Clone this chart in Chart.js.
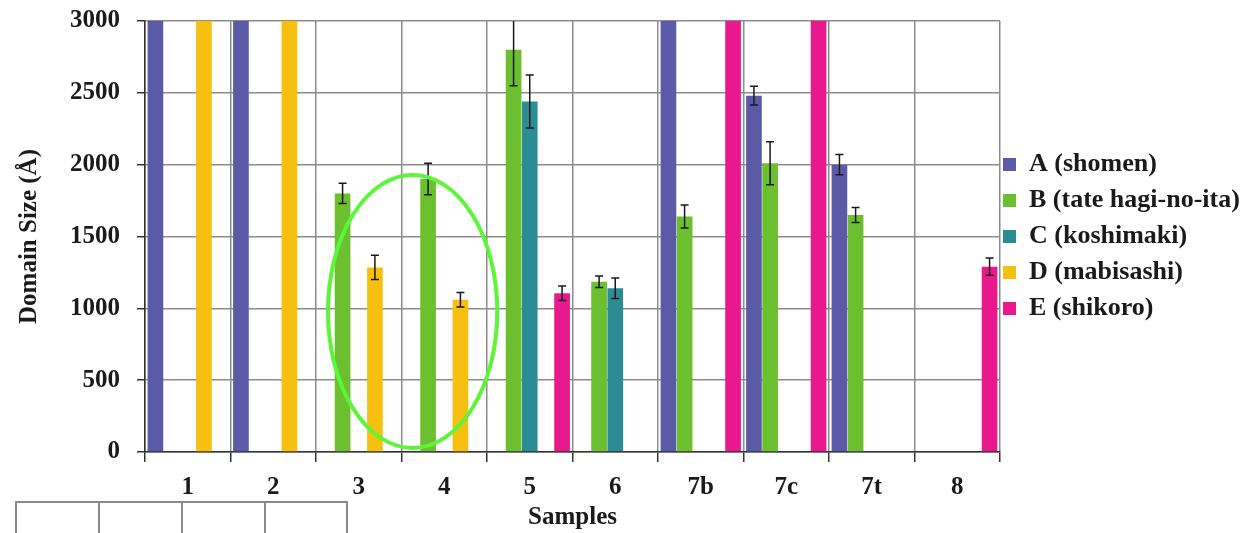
<!DOCTYPE html>
<html><head><meta charset="utf-8">
<script src="https://cdn.jsdelivr.net/npm/chart.js@4.4.1/dist/chart.umd.min.js"></script>
<style>
html,body{margin:0;padding:0;background:#fff;}
#wrap{position:relative;width:1256px;height:533px;overflow:hidden;}
canvas{display:block;}
.tl{position:absolute;background:#8a8a8a;}
</style></head><body>
<div id="wrap">
<canvas id="c" width="1256" height="533"></canvas>
<div class="tl" style="left:15px;top:501px;width:333px;height:1.5px"></div>
<div class="tl" style="left:15px;top:501px;width:1.5px;height:40px"></div>
<div class="tl" style="left:98px;top:501px;width:1.5px;height:40px"></div>
<div class="tl" style="left:181px;top:501px;width:1.5px;height:40px"></div>
<div class="tl" style="left:264px;top:501px;width:1.5px;height:40px"></div>
<div class="tl" style="left:346px;top:501px;width:1.5px;height:40px"></div>
</div>
<script>
// ---- data ----
const categories = ['1','2','3','4','5','6','7b','7c','7t','8'];
const seriesNames = ['A (shomen)','B (tate hagi-no-ita)','C (koshimaki)','D (mabisashi)','E (shikoro)'];
// 3000 = off-scale bars (run past the top of the axis)
const seriesA = [3000, 3000, null, null, null, null, 3000, 2480, 2000, null];
const seriesB = [null, null, 1800, 1900, 2800, 1185, 1640, 2010, 1650, null];
const seriesC = [null, null, null, null, 2440, 1140, null, null, null, null];
const seriesD = [3000, 3000, 1285, 1060, null, null, null, null, null, null];
const seriesE = [null, null, null, null, 1105, null, 3000, 3000, null, 1290];
const errA = [null, null, null, null, null, null, null, 65, 70, null];
const errB = [null, null, 70, 110, 250, 40, 80, 150, 52, null];
const errC = [null, null, null, null, 185, 72, null, null, null, null];
const errD = [null, null, 85, 50, null, null, null, null, null, null];
const errE = [null, null, null, null, 50, null, null, null, null, 60];
const yTicks = [0, 500, 1000, 1500, 2000, 2500, 3000];
// highlighted region (data units: category index, domain size)
const highlight = {x: 2.63, y: 978, rx: 0.99, ry: 950};

const colors = ['#5b5aa6', '#6cbf2f', '#2b8c93', '#f7c010', '#e9188d'];
const seriesValues = [seriesA, seriesB, seriesC, seriesD, seriesE];
const seriesErr = [errA, errB, errC, errD, errE];
const FONT = "'Liberation Serif', 'Times New Roman', serif";

const errorBars = {
  id: 'errorBars',
  afterDatasetsDraw(chart) {
    const {ctx, chartArea: a, scales: {x, y}} = chart;
    ctx.save();
    ctx.beginPath();
    ctx.rect(a.left, a.top, a.right - a.left, a.bottom - a.top);
    ctx.clip();
    ctx.strokeStyle = '#1a1a1a';
    ctx.lineWidth = 1.5;
    seriesErr.forEach((errs, i) => {
      const meta = chart.getDatasetMeta(i);
      meta.data.forEach((bar, j) => {
        const e = errs[j], v = seriesValues[i][j];
        if (e == null || v == null) return;
        const px = bar.x, yt = y.getPixelForValue(v + e), yb = y.getPixelForValue(v - e);
        ctx.beginPath();
        ctx.moveTo(px, yt); ctx.lineTo(px, yb);
        ctx.moveTo(px - 4, yt); ctx.lineTo(px + 4, yt);
        ctx.moveTo(px - 4, yb); ctx.lineTo(px + 4, yb);
        ctx.stroke();
      });
    });
    ctx.restore();
    // highlight ellipse
    const cx = x.getPixelForValue(highlight.x);
    const rx = x.getPixelForValue(highlight.x + highlight.rx) - cx;
    const cy = y.getPixelForValue(highlight.y);
    const ry = y.getPixelForValue(highlight.y - highlight.ry) - cy;
    ctx.save();
    ctx.strokeStyle = '#5cf53a';
    ctx.lineWidth = 4;
    ctx.beginPath();
    ctx.ellipse(cx, cy, rx, ry, 0, 0, Math.PI * 2);
    ctx.stroke();
    ctx.restore();
  }
};

const legendFix = {
  id: 'legendFix',
  beforeLayout(chart) {
    const lg = chart.legend;
    if (lg && !lg._fixed) {
      const f = lg.fit;
      lg.fit = function () { f.call(this); this.width = 256; };
      lg._fixed = true;
    }
  },
  afterLayout(chart) {
    const lg = chart.legend;
    if (lg) { lg.left -= 7; lg.right -= 7; }
  }
};

new Chart(document.getElementById('c'), {
  type: 'bar',
  data: {
    labels: categories,
    datasets: seriesNames.map((n, i) => ({
      label: n,
      data: seriesValues[i],
      backgroundColor: colors[i],
      borderWidth: 0,
      categoryPercentage: 0.945,
      barPercentage: 0.97,
      clip: 0
    }))
  },
  options: {
    responsive: false,
    animation: false,
    layout: {padding: {top: 21, left: 0, right: 0, bottom: 0}},
    plugins: {
      tooltip: {enabled: false},
      legend: {
        position: 'right',
        fullSize: false,
        labels: {
          boxWidth: 13, boxHeight: 13, padding: 10,
          color: '#1a1a1a',
          font: {family: FONT, size: 26, weight: 'bold'}
        }
      }
    },
    scales: {
      x: {
        grid: {color: '#8c8c8c', lineWidth: 1.5, tickLength: 10, tickColor: '#333', offset: true},
        border: {color: '#333', width: 1.5},
        ticks: {color: '#1a1a1a', padding: 11, font: {family: FONT, size: 25, weight: 'bold'}},
        title: {display: true, text: 'Samples', color: '#1a1a1a', padding: {top: 0, bottom: 0},
          font: {family: FONT, size: 25, weight: 'bold'}},
        afterFit(s) { s.height = 81; }
      },
      y: {
        min: 0, max: 3000,
        afterBuildTicks(s) { s.ticks = yTicks.map(v => ({value: v})); },
        grid: {color: '#8c8c8c', lineWidth: 1.5, tickLength: 8, tickColor: '#333'},
        border: {color: '#333', width: 1.5},
        ticks: {color: '#1a1a1a', padding: 17, font: {family: FONT, size: 25, weight: 'bold'},
          callback: v => String(v)},
        title: {display: true, text: 'Domain Size (Å)', color: '#1a1a1a', padding: {top: 15, bottom: 0},
          font: {family: FONT, size: 25, weight: 'bold'}},
        afterFit(s) { s.width = 145; s.paddingTop = 0; s.paddingBottom = 0; }
      }
    }
  },
  plugins: [errorBars, legendFix]
});
</script>
</body></html>
